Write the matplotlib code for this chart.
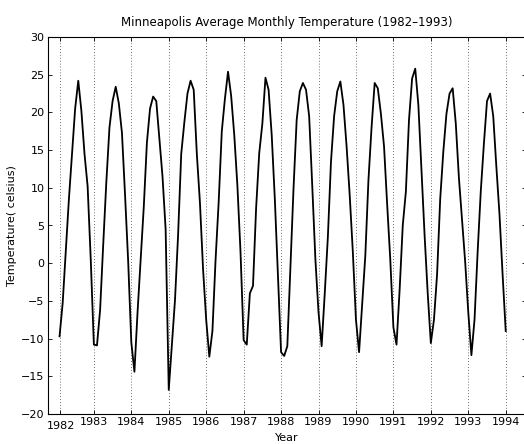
import numpy as np
import matplotlib
matplotlib.use("Agg")
import matplotlib.pyplot as plt
from matplotlib.transforms import ScaledTranslation

plt.rcParams['font.family'] = ['DejaVu Sans']

# monthly mean temperature (deg C), Jan 1982 .. Dec 1993
t1982 = [-9.7, -5.3, 1.6, 8.5, 14.5, 20.5, 24.2, 20.2, 14.5, 10.2, 0.5, -10.8]
t1983 = [-10.9, -6.2, 2.5, 10.8, 18.0, 21.5, 23.4, 21.2, 17.3, 9.0, 0.2, -10.5]
t1984 = [-14.4, -6.5, 0.5, 7.5, 16.0, 20.5, 22.1, 21.5, 16.5, 11.5, 4.5, -16.8]
t1985 = [-10.8, -4.9, 3.8, 14.5, 18.7, 22.5, 24.2, 23.0, 14.5, 8.0, -0.8, -7.5]
t1986 = [-12.4, -9.0, 0.4, 8.1, 17.5, 21.8, 25.4, 22.2, 17.0, 10.3, 1.5, -10.2]
t1987 = [-10.8, -4.0, -3.0, 7.3, 14.6, 18.5, 24.6, 23.0, 17.0, 8.5, -1.5, -11.8]
t1988 = [-12.3, -11.0, -0.5, 10.0, 19.0, 22.8, 23.9, 23.0, 19.5, 10.2, 0.5, -6.5]
t1989 = [-11.0, -4.0, 3.5, 13.5, 19.5, 22.8, 24.1, 21.0, 15.5, 9.0, 1.5, -7.5]
t1990 = [-11.8, -5.5, 1.0, 11.0, 18.0, 23.9, 23.2, 19.8, 15.5, 7.8, 0.5, -8.5]
t1991 = [-10.8, -3.5, 5.0, 9.5, 19.0, 24.5, 25.8, 21.0, 12.5, 3.7, -4.0, -10.6]
t1992 = [-7.5, -1.5, 8.5, 14.8, 19.8, 22.5, 23.2, 18.5, 11.3, 5.7, 0.2, -6.5]
t1993 = [-12.2, -7.5, 1.5, 9.5, 15.8, 21.5, 22.5, 19.5, 12.8, 6.5, -1.5, -9.0]

temps = (t1982 + t1983 + t1984 + t1985 + t1986 + t1987 +
         t1988 + t1989 + t1990 + t1991 + t1992 + t1993)
months = np.arange(1, len(temps) + 1)

tick_pos = [1, 12, 24, 36, 48, 60, 72, 84, 96, 108, 120, 132, 144]
tick_lab = ['1982', '1983', '1984', '1985', '1986', '1987', '1988',
            '1989', '1990', '1991', '1992', '1993', '1994']
ytick_pos = [-20, -15, -10, -5, 0, 5, 10, 15, 20, 25, 30]

fig = plt.figure(figsize=(5.24, 4.44), dpi=100)
ax = fig.add_axes([48/524, 1 - 414/444, (526 - 48)/524, (414 - 37)/444])

ax.plot(months, temps, color='k', linewidth=1.3)

ax.set_xlim(-2.7, 150.5)
ax.set_ylim(-20, 30)
ax.set_xticks(tick_pos)
ax.set_xticklabels(tick_lab)
ax.set_yticks(ytick_pos)

ax.xaxis.grid(True, linestyle=(0, (1, 2.5)), color='0.25', linewidth=0.6)
ax.tick_params(direction='in', length=3, width=0.6, labelsize=8,
               top=True, right=True, pad=2.5)
for s in ax.spines.values():
    s.set_linewidth(0.8)

# the first year label sits a bit lower in the original
lab0 = ax.get_xticklabels()[0]
lab0.set_transform(lab0.get_transform() +
                   ScaledTranslation(1/100, -4/100, fig.dpi_scale_trans))

ax.set_title('Minneapolis Average Monthly Temperature (1982\u20131993)',
             fontsize=8.5, pad=8)
ax.set_xlabel('Year', fontsize=8, labelpad=1)
ax.set_ylabel('Temperature( celsius)', fontsize=8, labelpad=3)

fig.savefig('out.png', dpi=100)
